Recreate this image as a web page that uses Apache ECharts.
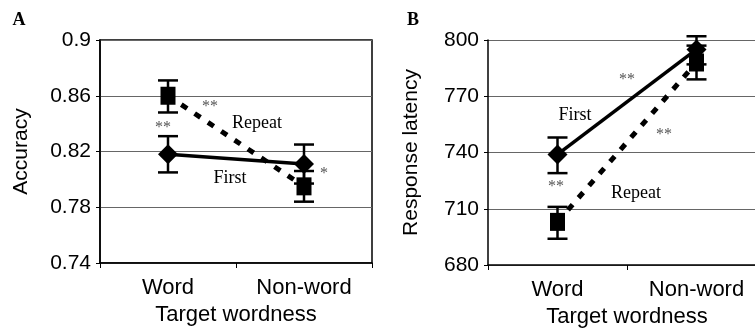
<!DOCTYPE html>
<html><head><meta charset="utf-8">
<script src="https://cdn.jsdelivr.net/npm/echarts@6/dist/echarts.min.js"></script>
<style>html,body{margin:0;padding:0;background:#fff}#c{width:755px;height:328px}</style>
</head><body><div id="c"></div>
<script>
var categories = ['Word', 'Non-word'];
// Panel A: Accuracy
var accFirst = [0.818, 0.811];
var accFirstLow = [0.805, 0.797];
var accFirstHigh = [0.831, 0.825];
var accRepeat = [0.860, 0.795];
var accRepeatLow = [0.848, 0.784];
var accRepeatHigh = [0.871, 0.806];
var accTicks = {min: 0.74, max: 0.9, interval: 0.04};
// Panel B: Response latency
var latFirst = [739, 795];
var latFirstLow = [729, 787];
var latFirstHigh = [748, 802];
var latRepeat = [703, 788];
var latRepeatLow = [694, 779];
var latRepeatHigh = [711, 797];
var latTicks = {min: 680, max: 800, interval: 30};

function errData(low, high) {
  return low.map(function (l, i) { return [i, l, high[i]]; });
}
function errSeries(low, high, xi, yi) {
  return {
    type: 'custom', xAxisIndex: xi, yAxisIndex: yi, z: 3,
    data: errData(low, high),
    encode: {x: 0, y: [1, 2]},
    renderItem: function (params, api) {
      var x = api.value(0);
      var p1 = api.coord([x, api.value(1)]);
      var p2 = api.coord([x, api.value(2)]);
      var w = 10;
      var st = {stroke: '#000', lineWidth: 2.5};
      return {type: 'group', children: [
        {type: 'line', shape: {x1: p1[0], y1: p1[1], x2: p2[0], y2: p2[1]}, style: st},
        {type: 'line', shape: {x1: p1[0] - w, y1: p1[1], x2: p1[0] + w, y2: p1[1]}, style: st},
        {type: 'line', shape: {x1: p2[0] - w, y1: p2[1], x2: p2[0] + w, y2: p2[1]}, style: st}
      ]};
    }
  };
}
var sans = 'Liberation Sans, Arial, sans-serif';
var serif = 'Liberation Serif, Times New Roman, serif';
function xAx(gi, gap) {
  return {
    type: 'category', gridIndex: gi, data: categories, boundaryGap: true,
    name: 'Target wordness', nameLocation: 'middle', nameGap: gap,
    nameTextStyle: {fontFamily: sans, fontSize: 22, color: '#000'},
    axisLine: {lineStyle: {color: '#000', width: 1.5}},
    axisTick: {show: true, length: 5, lineStyle: {color: '#000'}},
    axisLabel: {fontFamily: sans, fontSize: 22, color: '#000', margin: 14},
    splitLine: {show: false}
  };
}
function yAx(gi, t, name, gap, fmt) {
  return {
    type: 'value', gridIndex: gi, min: t.min, max: t.max, interval: t.interval,
    name: name, nameLocation: 'middle', nameGap: gap, nameRotate: 90,
    nameTextStyle: {fontFamily: sans, fontSize: 21, color: '#000'},
    axisLine: {show: true, lineStyle: {color: '#000', width: 1.5}},
    axisTick: {show: true, length: 4, lineStyle: {color: '#000'}},
    axisLabel: {fontFamily: sans, fontSize: 21, color: '#000', margin: 9, formatter: fmt},
    splitLine: {show: true, lineStyle: {color: '#666', width: 1}}
  };
}
function firstSeries(data, xi, yi) {
  return {type: 'line', xAxisIndex: xi, yAxisIndex: yi, data: data, z: 4,
    symbol: 'diamond', symbolSize: [20, 20], itemStyle: {color: '#000'},
    lineStyle: {color: '#000', width: 3.5, type: 'solid'}};
}
function repeatSeries(data, xi, yi) {
  return {type: 'line', xAxisIndex: xi, yAxisIndex: yi, data: data, z: 4,
    symbol: 'rect', symbolSize: [15, 18], itemStyle: {color: '#000'},
    lineStyle: {color: '#000', width: 5, type: [7, 9]}};
}
function txt(x, y, s, font, size, color, weight) {
  return {type: 'text', x: x, y: y, z: 10, style: {text: s, fontFamily: font, fontSize: size,
    fill: color || '#000', fontWeight: weight || 'normal', textAlign: 'center', textVerticalAlign: 'middle'}};
}
var chart = echarts.init(document.getElementById('c'), null, {renderer: 'canvas'});
chart.setOption({
  animation: false,
  backgroundColor: '#fff',
  grid: [
    {left: 100, top: 40, width: 272, height: 223, outerBoundsMode: 'none', containLabel: false,
     show: true, borderColor: '#000', borderWidth: 1.5, backgroundColor: 'transparent'},
    {left: 488, top: 40, width: 278, height: 225, outerBoundsMode: 'none', containLabel: false, show: false}
  ],
  xAxis: [xAx(0, 40), xAx(1, 36)],
  yAxis: [
    yAx(0, accTicks, 'Accuracy', 68, function (v) { return String(Number(v.toFixed(2))); }),
    yAx(1, latTicks, 'Response latency', 66, function (v) { return String(Math.round(v)); })
  ],
  series: [
    repeatSeries(accRepeat, 0, 0),
    firstSeries(accFirst, 0, 0),
    errSeries(accFirstLow, accFirstHigh, 0, 0),
    errSeries(accRepeatLow, accRepeatHigh, 0, 0),
    repeatSeries(latRepeat, 1, 1),
    firstSeries(latFirst, 1, 1),
    errSeries(latFirstLow, latFirstHigh, 1, 1),
    errSeries(latRepeatLow, latRepeatHigh, 1, 1)
  ],
  graphic: [
    txt(19, 20, 'A', serif, 18, '#000', 'bold'),
    txt(413, 20, 'B', serif, 18, '#000', 'bold'),
    txt(257, 123, 'Repeat', serif, 18),
    txt(230, 178, 'First', serif, 18),
    txt(210, 107, '**', serif, 16, '#555'),
    txt(163, 128, '**', serif, 16, '#555'),
    txt(324, 174, '*', serif, 16, '#555'),
    txt(575, 115, 'First', serif, 18),
    txt(636, 193, 'Repeat', serif, 18),
    txt(627, 80, '**', serif, 16, '#555'),
    txt(664, 135, '**', serif, 16, '#555'),
    txt(556, 187, '**', serif, 16, '#555')
  ]
});
</script></body></html>
